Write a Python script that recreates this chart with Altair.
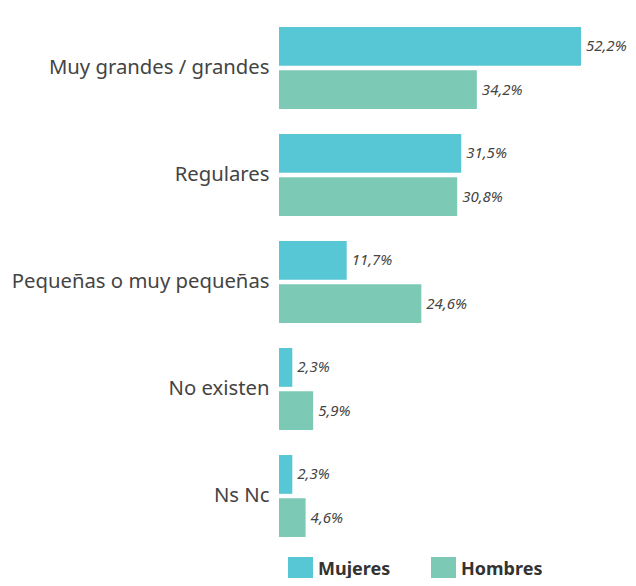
import altair as alt
import pandas as pd

categorias = ["Muy grandes / grandes", "Regulares", "Pequeñas o muy pequeñas", "No existen", "Ns Nc"]
series = ["Mujeres", "Hombres"]
mujeres = [52.2, 31.5, 11.7, 2.3, 2.3]
hombres = [34.2, 30.8, 24.6, 5.9, 4.6]
colores = ["#58c7d5", "#7ccab6"]

rows = []
for c, m, h in zip(categorias, mujeres, hombres):
    for s, v in (("Mujeres", m), ("Hombres", h)):
        rows.append({"categoria": c, "sexo": s, "valor": v,
                     "etiqueta": f"{v:.1f}".replace(".", ",") + "%"})
df = pd.DataFrame(rows)

FONT = "Noto Sans"

base = alt.Chart(df).encode(
    y=alt.Y("categoria:N", sort=categorias, title=None,
            scale=alt.Scale(paddingInner=0.234, paddingOuter=0.117),
            axis=alt.Axis(domain=False, ticks=False, grid=False, labelFontSize=20.3,
                          labelColor="#444444", labelPadding=10, labelFont=FONT,
                          labelLimit=300)),
    yOffset=alt.YOffset("sexo:N", sort=series, scale=alt.Scale(paddingInner=0.1)),
    x=alt.X("valor:Q", title=None, scale=alt.Scale(domain=[0, 52.2], nice=False),
            axis=None),
)

bars = base.mark_bar().encode(
    color=alt.Color("sexo:N", sort=series,
                    scale=alt.Scale(domain=series, range=colores),
                    legend=alt.Legend(orient="none", legendX=9, legendY=542.5,
                                      direction="horizontal", title=None,
                                      symbolType="square", symbolSize=625,
                                      symbolStrokeWidth=0, symbolOpacity=1,
                                      labelFontSize=18, labelFontWeight="bold",
                                      labelColor="#333333", labelFont=FONT,
                                      labelOffset=5, columnPadding=40))
)

labels = base.mark_text(align="left", baseline="middle", dx=5, fontSize=15,
                        fontStyle="italic", color="#444444", font=FONT).encode(
    text="etiqueta:N"
)

chart = alt.layer(bars, labels).properties(
    width=302, height=535,
    autosize=alt.AutoSizeParams(type="none"),
    padding={"left": 271, "top": 6.5, "right": 47, "bottom": 28.5},
).configure_view(stroke=None)

chart.save("out.html", embed_options={"renderer": "svg", "actions": False})
